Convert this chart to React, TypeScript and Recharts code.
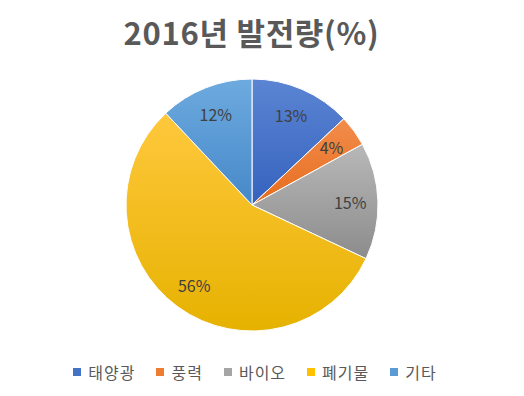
import { PieChart, Pie, Cell } from "recharts";

const categories = ["태양광", "풍력", "바이오", "폐기물", "기타"];
const shares = [13, 4, 15, 56, 12];
const colors = ["#4472C4", "#ED7D31", "#A5A5A5", "#FFC000", "#5B9BD5"];
const topColors = ["#5B85D3", "#F28D4C", "#B8B8B8", "#FFC83D", "#6DAADF"];
const bottomColors = ["#3562BE", "#E66C1E", "#8C8C8C", "#E6B200", "#4688C8"];

const data = categories.map((name, i) => ({ name, value: shares[i] }));

const RADIAN = Math.PI / 180;

const renderLabel = (props: any) => {
  const { cx, cy, midAngle, outerRadius, value } = props;
  const r = outerRadius * 0.78;
  const x = cx + r * Math.cos(-midAngle * RADIAN);
  const y = cy + r * Math.sin(-midAngle * RADIAN);
  return (
    <text
      x={x}
      y={y}
      fill="#404040"
      fontSize={16}
      fontFamily="'Noto Sans CJK KR', 'Noto Sans', sans-serif"
      textAnchor="middle"
      dominantBaseline="central"
    >
      {value}%
    </text>
  );
};

export default function App() {
  return (
    <div
      style={{
        position: "absolute",
        left: 0,
        top: 0,
        width: 524,
        height: 396,
        background: "#fff",
        fontFamily: "'Noto Sans CJK KR', 'Noto Sans', sans-serif",
      }}
    >
      <div
        style={{
          position: "absolute",
          top: 11,
          left: 0,
          width: 503,
          textAlign: "center",
          fontSize: 31,
          fontWeight: 700,
          color: "#595959",
          lineHeight: "42px",
          letterSpacing: 0.7,
        }}
      >
        2016년 발전량(%)
      </div>
      <PieChart width={524} height={396}>
        <defs>
          {colors.map((c, i) => (
            <linearGradient key={c} id={`grad${i}`} x1="0" y1="0" x2="0" y2="1">
              <stop offset="0%" stopColor={topColors[i]} />
              <stop offset="100%" stopColor={bottomColors[i]} />
            </linearGradient>
          ))}
        </defs>
        <Pie
          data={data}
          dataKey="value"
          nameKey="name"
          cx={247}
          cy={200}
          outerRadius={126}
          startAngle={90}
          endAngle={-270}
          stroke="#ffffff"
          strokeWidth={1}
          label={renderLabel}
          labelLine={false}
          isAnimationActive={false}
        >
          {data.map((d, i) => (
            <Cell key={d.name} fill={`url(#grad${i})`} />
          ))}
        </Pie>
      </PieChart>
      <div
        style={{
          position: "absolute",
          top: 359,
          left: 0,
          width: 510,
          display: "flex",
          justifyContent: "center",
          fontSize: 16,
          letterSpacing: 1,
          color: "#595959",
          lineHeight: "26px",
        }}
      >
        {categories.map((c, i) => (
          <div
            key={c}
            style={{
              display: "flex",
              alignItems: "center",
              marginRight: i < categories.length - 1 ? 21 : 0,
            }}
          >
            <span
              style={{
                display: "inline-block",
                width: 8,
                height: 8,
                background: colors[i],
                marginRight: 7,
              }}
            />
            <span>{c}</span>
          </div>
        ))}
      </div>
    </div>
  );
}
